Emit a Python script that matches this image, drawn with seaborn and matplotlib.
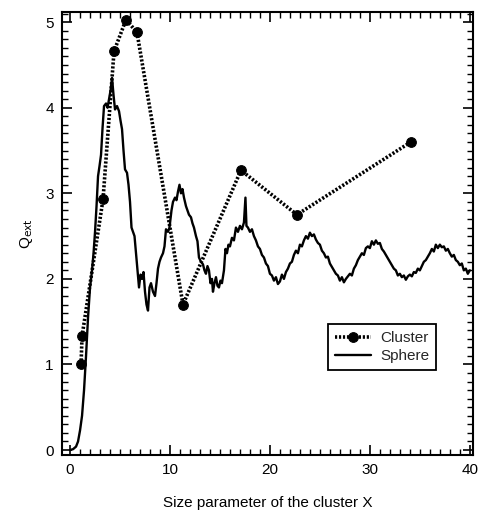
import numpy as np
import matplotlib.pyplot as plt
import seaborn as sns
from matplotlib.ticker import MultipleLocator

# Cluster values
cluster_x = [1.1, 1.2, 3.3, 4.4, 5.6, 6.7, 11.3, 17.1, 22.7, 34.1]
cluster_y = [1.00, 1.33, 2.93, 4.66, 5.03, 4.88, 1.70, 3.27, 2.75, 3.60]

# Sphere curve
sphere_x = [0.0, 0.3, 0.6, 0.8, 1.0, 1.2, 1.4, 1.6, 1.8, 2.0, 2.2, 2.35, 2.5, 2.65, 2.8,
            2.95, 3.1, 3.25, 3.4, 3.6, 3.75, 3.9, 4.05, 4.2, 4.35, 4.5, 4.7, 4.9, 5.05,
            5.2, 5.35, 5.5, 5.7, 5.85, 6.0, 6.15, 6.3, 6.45, 6.6, 6.75, 6.9, 7.05, 7.2,
            7.35, 7.5, 7.65, 7.8, 7.95, 8.1, 8.3, 8.5, 8.65, 8.8, 8.95, 9.1, 9.3, 9.45,
            9.6, 9.8, 9.95, 10.15, 10.3, 10.5, 10.65, 10.8, 10.95, 11.1, 11.25, 11.4,
            11.6, 11.75, 11.9, 12.1, 12.25, 12.4, 12.6, 12.75, 12.9, 13.1, 13.3, 13.45,
            13.6, 13.75, 13.9, 14.05, 14.2, 14.3, 14.45, 14.6, 14.75, 14.9, 15.05, 15.2,
            15.4, 15.55, 15.7, 15.85, 16.0, 16.2, 16.4, 16.6, 16.8, 17.0, 17.2, 17.4,
            17.55, 17.65, 17.8, 18.0, 18.2, 18.4, 18.6, 18.8, 19.0, 19.2, 19.4, 19.6,
            19.8, 20.0, 20.2, 20.4, 20.6, 20.8, 21.0, 21.2, 21.4, 21.6, 21.8, 22.0, 22.2,
            22.4, 22.6, 22.8, 23.0, 23.2, 23.4, 23.6, 23.8, 24.0, 24.2, 24.4, 24.6, 24.8,
            25.0, 25.2, 25.4, 25.6, 25.8, 26.0, 26.2, 26.4, 26.6, 26.8, 27.0, 27.2, 27.4,
            27.6, 27.8, 28.0, 28.2, 28.4, 28.6, 28.8, 29.0, 29.2, 29.4, 29.6, 29.8, 30.0,
            30.2, 30.4, 30.6, 30.8, 31.0, 31.2, 31.4, 31.6, 31.8, 32.0, 32.2, 32.4, 32.6,
            32.8, 33.0, 33.2, 33.4, 33.6, 33.8, 34.0, 34.2, 34.4, 34.6, 34.8, 35.0, 35.2,
            35.4, 35.6, 35.8, 36.0, 36.2, 36.4, 36.6, 36.8, 37.0, 37.2, 37.4, 37.6, 37.8,
            38.0, 38.2, 38.4, 38.6, 38.8, 39.0, 39.2, 39.4, 39.6, 39.8, 40.0]
sphere_y = [0.0, 0.01, 0.04, 0.1, 0.23, 0.4, 0.7, 1.1, 1.55, 1.9, 2.1, 2.3, 2.55, 2.85, 3.2,
            3.32, 3.45, 3.76, 4.02, 4.05, 4.0, 4.1, 4.2, 4.35, 4.15, 3.98, 4.02, 3.96, 3.85,
            3.75, 3.5, 3.28, 3.24, 3.1, 2.9, 2.6, 2.55, 2.5, 2.3, 2.1, 1.9, 2.05, 2.0,
            2.08, 1.85, 1.7, 1.63, 1.9, 1.95, 1.85, 1.8, 1.95, 2.12, 2.2, 2.25, 2.3, 2.38,
            2.58, 2.55, 2.6, 2.8, 2.9, 2.95, 2.92, 3.02, 3.1, 3.0, 3.05, 2.95,
            2.85, 2.8, 2.75, 2.72, 2.65, 2.6, 2.5, 2.44, 2.25, 2.2, 2.17, 2.1,
            2.06, 2.15, 2.1, 1.95, 2.0, 1.85, 1.95, 2.02, 1.92, 1.9, 1.98, 1.95,
            2.1, 2.35, 2.3, 2.4, 2.38, 2.48, 2.45, 2.6, 2.55, 2.62, 2.58, 2.66,
            2.95, 2.62, 2.6, 2.55, 2.58, 2.5, 2.45, 2.38, 2.35, 2.28, 2.25, 2.18,
            2.15, 2.06, 2.04, 1.98, 2.02, 1.94, 1.97, 2.05, 2.0, 2.08, 2.12, 2.18, 2.2,
            2.28, 2.33, 2.3, 2.4, 2.38, 2.45, 2.5, 2.47, 2.54, 2.5, 2.52, 2.46, 2.42,
            2.4, 2.33, 2.3, 2.25, 2.26, 2.18, 2.14, 2.1, 2.06, 2.04, 1.98, 2.02, 1.96,
            2.0, 2.03, 2.06, 2.04, 2.12, 2.16, 2.22, 2.26, 2.3, 2.28, 2.36, 2.38, 2.36,
            2.44, 2.4, 2.45, 2.41, 2.42, 2.35, 2.32, 2.28, 2.24, 2.2, 2.16, 2.12, 2.1,
            2.04, 2.06, 2.02, 2.04, 1.99, 2.03, 2.05, 2.03, 2.08, 2.07, 2.12, 2.1, 2.15,
            2.2, 2.22, 2.26, 2.3, 2.35, 2.32, 2.4, 2.36, 2.4, 2.37, 2.38, 2.33, 2.35,
            2.3, 2.26, 2.28, 2.22, 2.2, 2.16, 2.18, 2.1, 2.12, 2.06, 2.1]

sns.set_theme(style="ticks")
plt.rcParams['font.family'] = ['Liberation Sans', 'DejaVu Sans']

fig = plt.figure(figsize=(4.81, 5.19), dpi=100)
ax = fig.add_axes([0.129, 0.123, 0.854, 0.854])

sns.lineplot(x=sphere_x, y=sphere_y, color='black', linewidth=1.7, sort=False,
             estimator=None, label='Sphere', ax=ax)
sns.lineplot(x=cluster_x, y=cluster_y, color='black', linewidth=2.6, linestyle=(0, (0.6, 0.5)),
             marker='o', markersize=7, markeredgecolor='black', sort=False,
             estimator=None, label='Cluster', ax=ax)

ax.set_xlim(-0.8, 40.3)
ax.set_ylim(-0.06, 5.12)

ax.xaxis.set_major_locator(MultipleLocator(10))
ax.xaxis.set_minor_locator(MultipleLocator(1))
ax.yaxis.set_major_locator(MultipleLocator(1))
ax.yaxis.set_minor_locator(MultipleLocator(0.1))
ax.tick_params(which='both', direction='in', top=True, right=True, color='black',
               labelsize=11, labelcolor='black')
ax.tick_params(which='major', length=7, width=1.2, pad=6)
ax.tick_params(which='minor', length=4, width=1.0)
for s in ax.spines.values():
    s.set_color('black')
    s.set_linewidth(1.5)

ax.set_xlabel('Size parameter of the cluster X', fontsize=11, labelpad=13, color='black')
ax.set_ylabel(r'Q$_{\mathrm{ext}}$', fontsize=11, labelpad=7, color='black')

handles, labels = ax.get_legend_handles_labels()
order = [labels.index('Cluster'), labels.index('Sphere')]
leg = ax.legend([handles[i] for i in order], [labels[i] for i in order],
                loc='lower right', bbox_to_anchor=(0.93, 0.175), fontsize=11,
                fancybox=False, framealpha=1, edgecolor='black', handlelength=2.4,
                borderpad=0.45, labelspacing=0.25, handletextpad=0.6)
leg.get_frame().set_linewidth(1.3)

fig.savefig('out.png', dpi=100)
